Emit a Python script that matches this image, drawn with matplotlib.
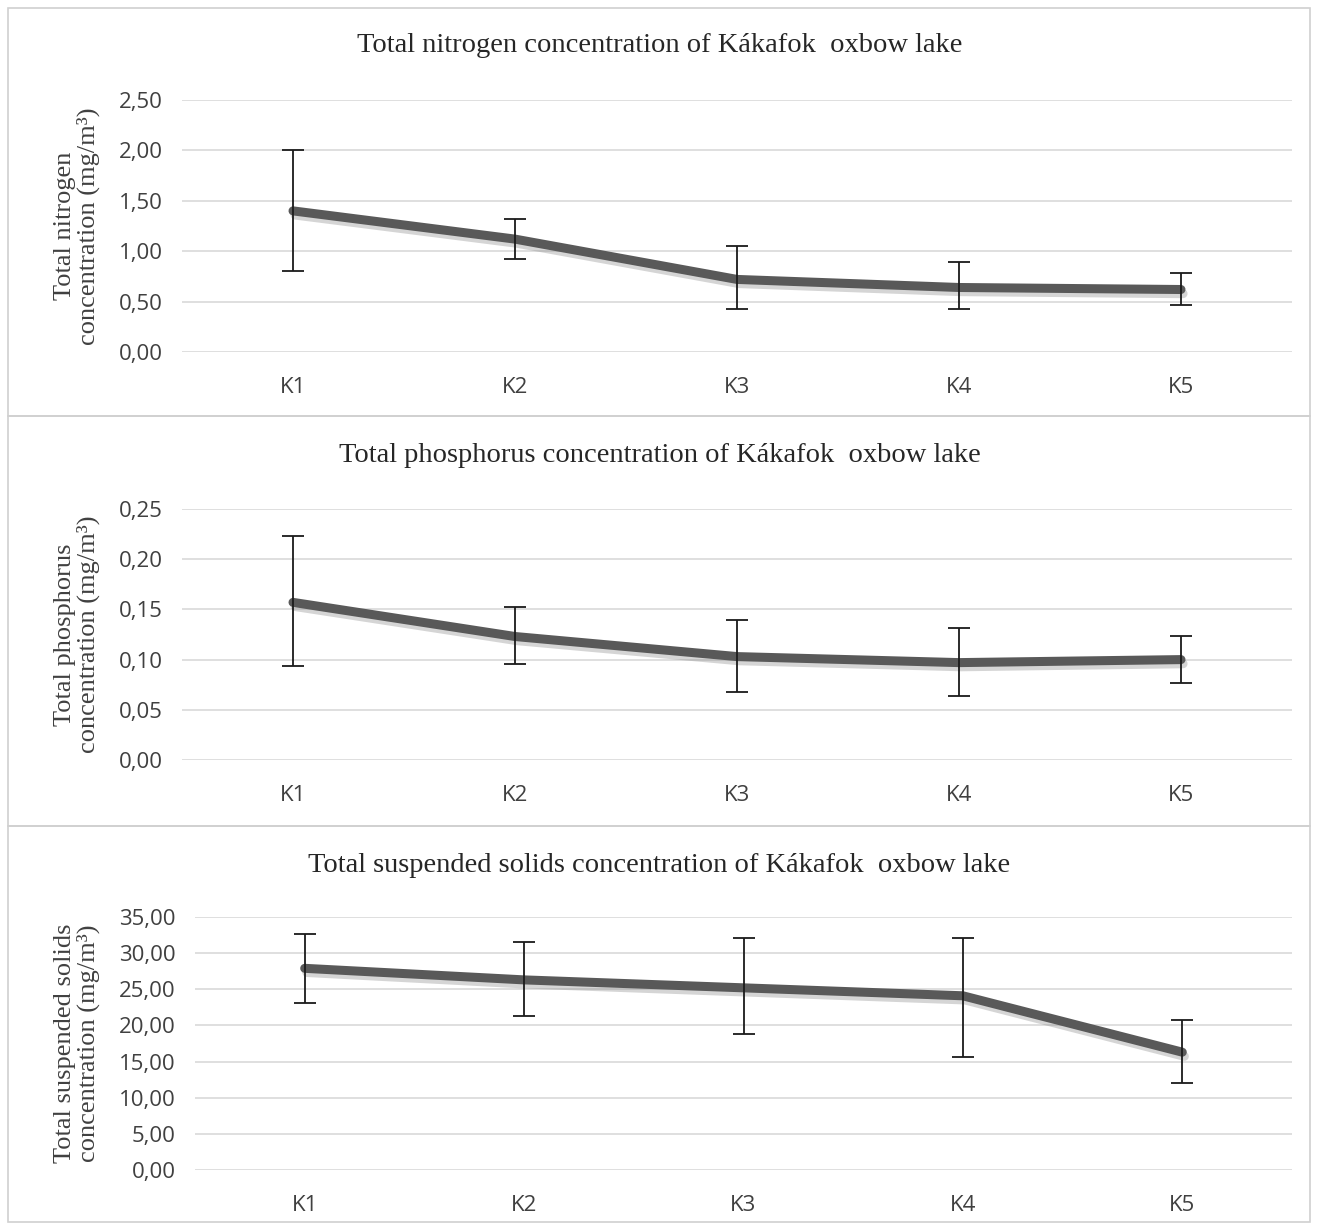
import matplotlib
matplotlib.use("Agg")
import matplotlib.pyplot as plt
import matplotlib.patheffects as pe
from matplotlib.patches import Rectangle

# sampling points
sites = ["K1", "K2", "K3", "K4", "K5"]

# total nitrogen: mean, lower / upper end of error bar
tn_mean = [1.40, 1.12, 0.72, 0.64, 0.62]
tn_low = [0.80, 0.92, 0.43, 0.43, 0.47]
tn_high = [2.00, 1.32, 1.05, 0.89, 0.78]

# total phosphorus
tp_mean = [0.157, 0.123, 0.103, 0.097, 0.100]
tp_low = [0.094, 0.096, 0.068, 0.064, 0.077]
tp_high = [0.223, 0.152, 0.139, 0.131, 0.124]

# total suspended solids
tss_mean = [27.9, 26.3, 25.2, 24.1, 16.3]
tss_low = [23.1, 21.3, 18.8, 15.6, 12.0]
tss_high = [32.6, 31.5, 32.1, 32.1, 20.8]

titles = ["Total nitrogen concentration of Kákafok  oxbow lake",
          "Total phosphorus concentration of Kákafok  oxbow lake",
          "Total suspended solids concentration of Kákafok  oxbow lake"]
ylabels = ["Total nitrogen\nconcentration (mg/m³)",
           "Total phosphorus\nconcentration (mg/m³)",
           "Total suspended solids\nconcentration (mg/m³)"]
yticks = [[0, 0.5, 1.0, 1.5, 2.0, 2.5],
          [0, 0.05, 0.10, 0.15, 0.20, 0.25],
          [0, 5, 10, 15, 20, 25, 30, 35]]

W, H = 1319, 1226
fig = plt.figure(figsize=(W / 100, H / 100), dpi=100)

# axes boxes in pixels: left, right, top, bottom
boxes = [(182, 1292, 100, 352), (182, 1292, 509, 760), (195, 1292, 917, 1170)]
title_y = [46, 456, 865]
panels = [(8, 416), (416, 826), (826, 1222)]

data = [(tn_mean, tn_low, tn_high), (tp_mean, tp_low, tp_high),
        (tss_mean, tss_low, tss_high)]

for i in range(3):
    # panel frame
    top, bot = panels[i]
    fig.add_artist(Rectangle((8 / W, 1 - bot / H), 1302 / W, (bot - top) / H,
                             transform=fig.transFigure, fill=False,
                             edgecolor="#d0d0d0", lw=1.2))

    l, r, t, b = boxes[i]
    ax = fig.add_axes([l / W, 1 - b / H, (r - l) / W, (b - t) / H])
    mean, low, high = data[i]
    x = list(range(len(sites)))
    yerr = [[m - lo for m, lo in zip(mean, low)],
            [hi - m for m, hi in zip(mean, high)]]

    ax.plot(x, mean, color="#595959", lw=6.5, solid_capstyle="round", zorder=3,
            path_effects=[pe.SimpleLineShadow(offset=(1.5, -3), shadow_color="#888888",
                                              alpha=0.35),
                          pe.Normal()])
    ax.errorbar(x, mean, yerr=yerr, fmt="none", ecolor="#1a1a1a", elinewidth=1.3,
                capsize=8, capthick=1.3, zorder=4)

    ax.set_xlim(-0.5, len(sites) - 0.5)
    ax.set_ylim(yticks[i][0], yticks[i][-1])
    ax.set_yticks(yticks[i])
    ax.set_yticklabels([f"{v:.2f}".replace(".", ",") for v in yticks[i]])
    ax.set_xticks(x)
    ax.set_xticklabels(sites)
    ax.grid(axis="y", color="#d9d9d9", lw=1.2)
    ax.set_axisbelow(True)
    for s in ax.spines.values():
        s.set_visible(False)
    ax.tick_params(length=0, labelsize=16, labelcolor="#404040")
    ax.tick_params(axis="x", pad=18)
    ax.tick_params(axis="y", pad=14)
    for lab in ax.get_xticklabels() + ax.get_yticklabels():
        lab.set_fontfamily("Open Sans")

    fig.text(0.5, 1 - title_y[i] / H, titles[i], ha="center", va="center",
             fontsize=20.5, family="Liberation Serif", color="#262626")
    fig.text(77 / W, 1 - (t + b) / 2 / H, ylabels[i], ha="center", va="center",
             rotation=90, fontsize=19, family="Liberation Serif", color="#404040",
             linespacing=1.0)

fig.savefig("out.png", dpi=100, facecolor="white")
